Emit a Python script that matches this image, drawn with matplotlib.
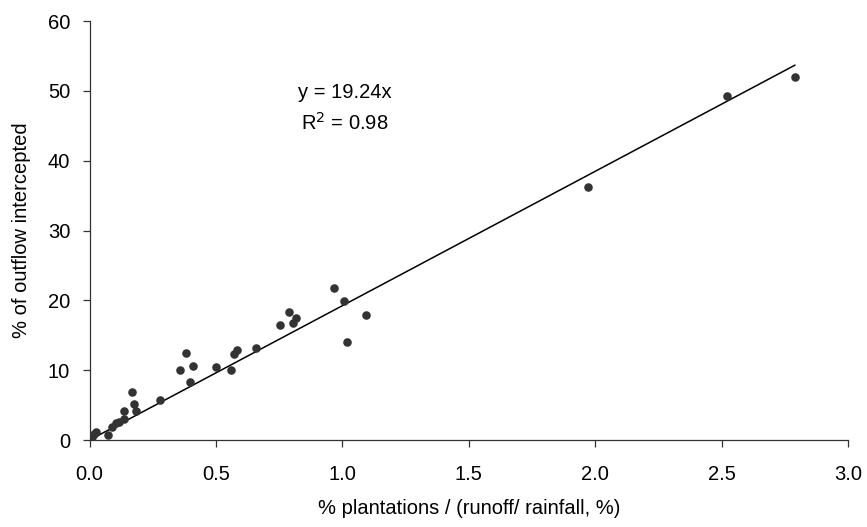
import matplotlib
matplotlib.use("Agg")
import matplotlib.pyplot as plt
import numpy as np

plt.rcParams['font.family'] = ['Liberation Sans', 'DejaVu Sans']

x_vals = [2.79, 2.52, 1.97, 1.095, 1.017, 1.005, 0.966, 0.817, 0.806, 0.79, 0.755,
          0.658, 0.584, 0.571, 0.561, 0.499, 0.408, 0.398, 0.381, 0.357, 0.277,
          0.169, 0.175, 0.182, 0.135, 0.136, 0.116, 0.105, 0.089, 0.073,
          0.027, 0.018, 0.008, 0.003, 0.0]
y_vals = [52.0, 49.3, 36.3, 17.9, 14.0, 19.9, 21.8, 17.5, 16.8, 18.3, 16.5,
          13.2, 12.96, 12.3, 10.0, 10.5, 10.6, 8.3, 12.5, 10.0, 5.7,
          6.9, 5.2, 4.1, 4.2, 2.95, 2.6, 2.4, 1.9, 0.7,
          1.2, 0.86, 0.5, 0.3, 0.1]
slope = 19.24
line_x = [0.0, 2.79]
x_ticks = [0.0, 0.5, 1.0, 1.5, 2.0, 2.5, 3.0]
y_ticks = [0, 10, 20, 30, 40, 50, 60]

fig = plt.figure(figsize=(8.67, 5.27), dpi=100)
ax = fig.add_axes([0.1033, 0.165, 0.8747, 0.795])

ax.scatter(x_vals, y_vals, s=38, color='#333333', zorder=3, linewidths=0)
lx = np.array(line_x)
ax.plot(lx, slope * lx, color='black', linewidth=1.1, zorder=2)

ax.set_xlim(0, 3.0)
ax.set_ylim(0, 60)
ax.set_xticks(x_ticks)
ax.set_xticklabels([f"{t:.1f}" for t in x_ticks])
ax.set_yticks(y_ticks)
for s in ['top', 'right']:
    ax.spines[s].set_visible(False)
for s in ['left', 'bottom']:
    ax.spines[s].set_color('#333333')
    ax.spines[s].set_linewidth(0.9)
ax.tick_params(direction='out', length=5, width=0.9, colors='#333333',
               labelcolor='black', labelsize=14.5)
ax.tick_params(axis='y', pad=9)
ax.tick_params(axis='x', pad=13)

ax.set_xlabel('% plantations / (runoff/ rainfall, %)', fontsize=14.5, labelpad=11)
ax.set_ylabel('% of outflow intercepted', fontsize=14.5, labelpad=12)

ax.text(1.01, 49.8, 'y = 19.24x', fontsize=14.5, ha='center', va='center')
ax.text(1.01, 45.4, r'R$^2$ = 0.98', fontsize=14.5, ha='center', va='center')

fig.savefig('out.png', dpi=100)
